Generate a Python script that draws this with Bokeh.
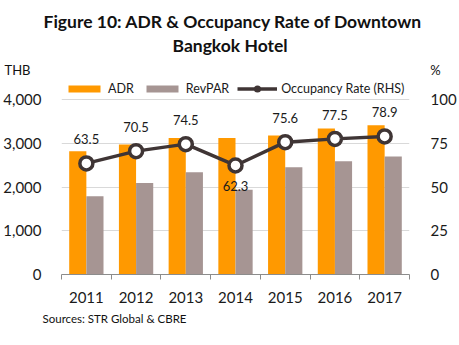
from bokeh.plotting import figure
from bokeh.models import (ColumnDataSource, Range1d, LinearAxis, FixedTicker, NumeralTickFormatter,
                          LabelSet, Legend, LegendItem, Title)
from bokeh.core.properties import value
from bokeh.transform import dodge
from bokeh.embed import file_html
from bokeh.resources import INLINE

years = ["2011", "2012", "2013", "2014", "2015", "2016", "2017"]
adr = [2820, 2970, 3120, 3120, 3180, 3340, 3410]
revpar = [1790, 2090, 2340, 1940, 2450, 2590, 2700]
occupancy = [63.5, 70.5, 74.5, 62.3, 75.6, 77.5, 78.9]
left_ticks = [0, 1000, 2000, 3000, 4000]
right_ticks = [0, 25, 50, 75, 100]

FONT = "Lato"
ORANGE = "#FF9900"
GREY = "#A69593"
DARK = "#3F3535"
TXT = "#111111"

# frame is stretched 19px above the 4000 gridline so the legend sits inside it
HEAD = 80
EXTRA = (99 - HEAD) / 175.0
LEFT_MAX = left_ticks[-1] * (1 + EXTRA)
RIGHT_MAX = right_ticks[-1] * (1 + EXTRA)

xc = [i + 0.5 for i in range(len(years))]
lab_off = [-26 if i == 3 else 19 for i in range(len(years))]
src = ColumnDataSource(dict(x=xc, adr=adr, revpar=revpar, occ=occupancy,
                            occ_txt=[f"{v:.1f}" for v in occupancy], off=lab_off))

p = figure(width=459, height=345, output_backend="svg", toolbar_location=None, title=None,
           x_range=Range1d(0, len(years)), y_range=Range1d(0, LEFT_MAX),
           min_border_left=57, min_border_right=47, min_border_top=HEAD, min_border_bottom=71)
p.extra_y_ranges = {"occ": Range1d(0, RIGHT_MAX)}
p.outline_line_color = None

b1 = p.vbar(x=dodge("x", -0.1725, range=p.x_range), top="adr", width=0.345, source=src,
            fill_color=ORANGE, line_color=None)
b2 = p.vbar(x=dodge("x", 0.1725, range=p.x_range), top="revpar", width=0.345, source=src,
            fill_color=GREY, line_color=None)
ln = p.line(x="x", y="occ", source=src, y_range_name="occ", line_color=DARK, line_width=3.5)
mk = p.scatter(x="x", y="occ", source=src, y_range_name="occ", size=13, marker="circle",
               fill_color="white", line_color=DARK, line_width=3.5)

labels = LabelSet(x="x", y="occ", text="occ_txt", source=src, y_range_name="occ",
                  y_offset="off", text_align="center", text_baseline="bottom",
                  text_font=value(FONT), text_font_size="13px", text_color="#1a1a1a")
p.add_layout(labels)

xa = p.xaxis[0]
xa.ticker = FixedTicker(ticks=xc, minor_ticks=list(range(len(years) + 1)))
xa.major_label_overrides = {x: y for x, y in zip(xc, years)}
xa.major_tick_line_color = None
xa.minor_tick_line_color = "#8c8c8c"
xa.minor_tick_out = 5
xa.minor_tick_in = 0
xa.axis_line_color = "#8c8c8c"
xa.major_label_text_font = FONT
xa.major_label_text_font_size = "15px"
xa.major_label_text_color = "#1a1a1a"
xa.major_label_standoff = 11
p.xgrid.grid_line_color = None

ya = p.yaxis[0]
ya.ticker = FixedTicker(ticks=left_ticks)
ya.formatter = NumeralTickFormatter(format="0,0")
ya.axis_line_color = None
ya.major_tick_line_color = None
ya.minor_tick_line_color = None
ya.major_label_text_font = FONT
ya.major_label_text_font_size = "15px"
ya.major_label_text_color = "#1a1a1a"
ya.major_label_standoff = 14
p.ygrid.ticker = FixedTicker(ticks=left_ticks[1:])
p.ygrid.grid_line_color = "#d9d9d9"

ra = LinearAxis(y_range_name="occ", ticker=FixedTicker(ticks=right_ticks))
ra.axis_line_color = None
ra.major_tick_line_color = None
ra.minor_tick_line_color = None
ra.major_label_text_font = FONT
ra.major_label_text_font_size = "15px"
ra.major_label_text_color = "#1a1a1a"
ra.major_label_standoff = 15
p.add_layout(ra, "right")

legend = Legend(items=[LegendItem(label="ADR", renderers=[b1]),
                       LegendItem(label="RevPAR", renderers=[b2]),
                       LegendItem(label="Occupancy Rate (RHS)", renderers=[ln, mk])],
                orientation="horizontal", location=(3, 178), padding=0, margin=0,
                spacing=8, label_standoff=4, glyph_width=40, glyph_height=9, label_height=12,
                label_text_font=FONT, label_text_font_size="12.5px", label_text_color="#1a1a1a",
                border_line_color=None, background_fill_alpha=0)
p.add_layout(legend)

# above panels: first added sits nearest the frame
units_row = "THB" + "\u2003" * 41 + "%"
p.add_layout(Title(text=units_row, align="left", offset=-57, text_font=FONT,
                   text_font_size="13px", text_font_style="normal", text_color=TXT,
                   standoff=5), "above")
p.add_layout(Title(text="Bangkok Hotel", align="left", offset=111, text_font=FONT,
                   text_font_size="17.5px", text_font_style="bold", text_color=TXT,
                   standoff=3), "above")
p.add_layout(Title(text="Figure 10: ADR & Occupancy Rate of Downtown", align="left",
                   offset=-18, text_font=FONT, text_font_size="17.5px", text_font_style="bold",
                   text_color=TXT, standoff=0), "above")

p.add_layout(Title(text="Sources: STR Global & CBRE", align="left", offset=-19,
                   text_font=FONT, text_font_size="11.5px", text_font_style="normal",
                   text_color=TXT, standoff=8), "below")

open("out.html", "w").write(file_html(p, INLINE))
